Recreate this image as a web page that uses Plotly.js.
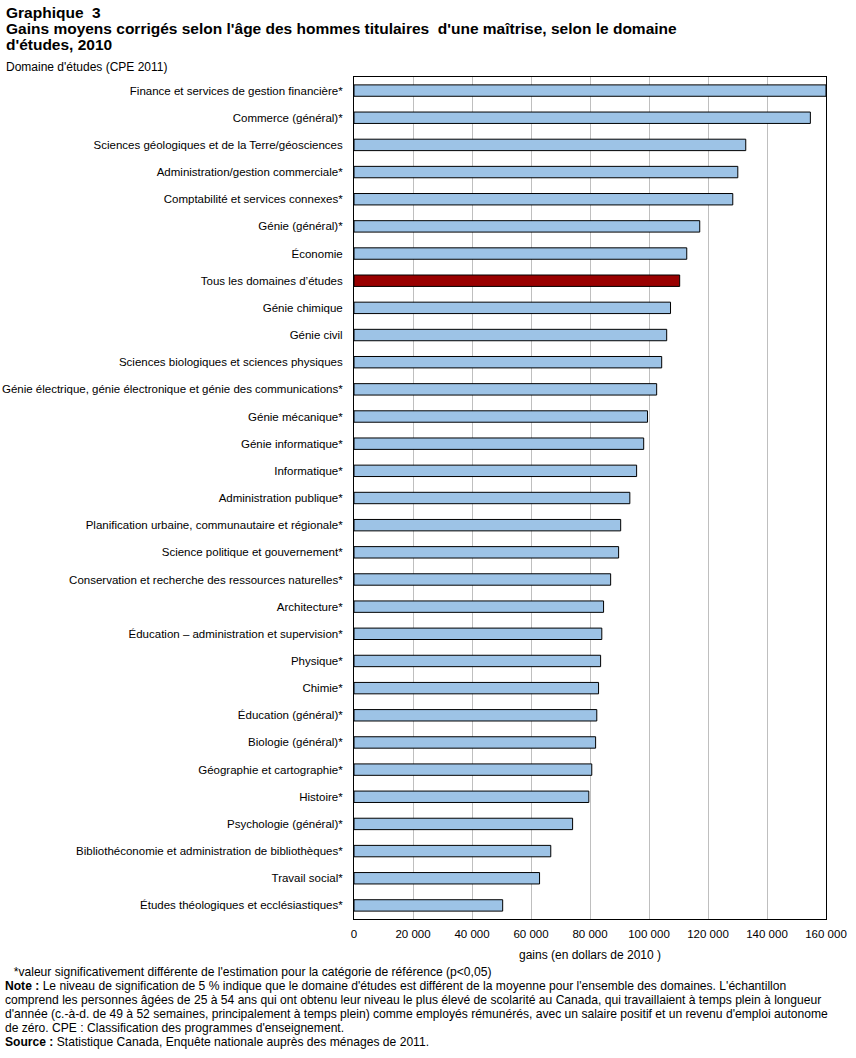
<!DOCTYPE html>
<html>
<head>
<meta charset="utf-8">
<script src="https://cdn.plot.ly/plotly-3.0.1.min.js"></script>
<style>
html,body{margin:0;padding:0;background:#fff;}
#chart{width:856px;height:1058px;}
</style>
</head>
<body>
<div id="chart"></div>
<script>
const categories = [
  "Finance et services de gestion financière*",
  "Commerce (général)*",
  "Sciences géologiques et de la Terre/géosciences",
  "Administration/gestion commerciale*",
  "Comptabilité et services connexes*",
  "Génie (général)*",
  "Économie",
  "Tous les domaines d’études",
  "Génie chimique",
  "Génie civil",
  "Sciences biologiques et sciences physiques",
  "Génie électrique, génie électronique et génie des communications*",
  "Génie mécanique*",
  "Génie informatique*",
  "Informatique*",
  "Administration publique*",
  "Planification urbaine, communautaire et régionale*",
  "Science politique et gouvernement*",
  "Conservation et recherche des ressources naturelles*",
  "Architecture*",
  "Éducation – administration et supervision*",
  "Physique*",
  "Chimie*",
  "Éducation (général)*",
  "Biologie (général)*",
  "Géographie et cartographie*",
  "Histoire*",
  "Psychologie (général)*",
  "Bibliothéconomie et administration de bibliothèques*",
  "Travail social*",
  "Études théologiques et ecclésiastiques*"
];
const earnings = [
  160000, 154700, 132800, 130100, 128400, 117200, 112800, 110400, 107300, 106000,
  104300, 102600, 99500, 98200, 95800, 93500, 90400, 89700, 87000, 84600,
  84000, 83600, 82900, 82300, 81900, 80600, 79600, 74100, 66700, 62900, 50400
];
const referenceCategory = "Tous les domaines d’études";
const xTickValues = [0, 20000, 40000, 60000, 80000, 100000, 120000, 140000, 160000];

const titleLines = [
  "Graphique  3",
  "Gains moyens corrigés selon l'âge des hommes titulaires  d'une maîtrise, selon le domaine",
  "d'études, 2010"
];
const yAxisLabel = "Domaine d'études (CPE 2011)";
const xAxisLabel = "gains (en dollars de 2010 )";
const footnoteLines = [
  "  *valeur significativement différente de l'estimation pour la catégorie de référence (p<0,05)",
  "<b>Note :</b> Le niveau de signification de 5 % indique que le domaine d'études est différent de la moyenne pour l'ensemble des domaines. L'échantillon",
  "comprend les personnes âgées de 25 à 54 ans qui ont obtenu leur niveau le plus élevé de scolarité au Canada, qui travaillaient à temps plein à longueur",
  "d'année (c.-à-d. de 49 à 52 semaines, principalement à temps plein) comme employés rémunérés, avec un salaire positif et un revenu d'emploi autonome",
  "de zéro. CPE : Classification des programmes d'enseignement.",
  "<b>Source :</b> Statistique Canada, Enquête nationale auprès des ménages de 2011."
];

const FONT = "'Liberation Sans', Arial, sans-serif";
const colors = categories.map(c => c === referenceCategory ? "#990000" : "#9DC3E6");

const trace = {
  type: "bar",
  orientation: "h",
  y: categories,
  x: earnings,
  marker: {color: colors, line: {color: "#000000", width: 1}},
  hoverinfo: "x+y"
};

// layout geometry helpers (pixels -> paper coords)
const L = 354, T = 77, W = 472, H = 842;
const px = x => (x - L) / W;
const py = y => 1 - (y - T) / H;

const annotations = [];
const titleY = [2, 18, 34];
titleLines.forEach((t, i) => annotations.push({
  text: "<b>" + t + "</b>", xref: "paper", yref: "paper", x: px(4), y: py(titleY[i]),
  xanchor: "left", yanchor: "top", showarrow: false, align: "left",
  font: {size: 15.5, family: FONT}
}));
annotations.push({
  text: yAxisLabel, xref: "paper", yref: "paper", x: px(4), y: py(58),
  xanchor: "left", yanchor: "top", showarrow: false, align: "left",
  font: {size: 12, family: FONT}
});
const footY = [963, 977, 991, 1005, 1019, 1033];
footnoteLines.forEach((t, i) => annotations.push({
  text: t, xref: "paper", yref: "paper", x: px(i === 0 ? 5 : 3), y: py(footY[i]),
  xanchor: "left", yanchor: "top", showarrow: false, align: "left",
  font: {size: 12.1, family: FONT}
}));

const layout = {
  width: 856, height: 1058,
  margin: {l: L, r: 856 - L - W, t: T, b: 1058 - T - H, pad: 0},
  paper_bgcolor: "#ffffff", plot_bgcolor: "#ffffff",
  separators: ", ",
  bargap: 0.58,
  showlegend: false,
  font: {family: FONT, size: 11, color: "#000"},
  xaxis: {
    range: [0, 160000],
    tickvals: xTickValues,
    tickformat: ",d",
    showgrid: true, gridcolor: "#BFBFBF", gridwidth: 1,
    zeroline: false,
    showline: true, linecolor: "#000", linewidth: 1, mirror: true,
    ticks: "", ticklabelstandoff: 4,
    tickfont: {size: 11.5, family: FONT},
    title: {text: xAxisLabel, font: {size: 12, family: FONT}, standoff: 11},
    fixedrange: true
  },
  yaxis: {
    autorange: "reversed",
    type: "category",
    showgrid: false, zeroline: false,
    showline: true, linecolor: "#000", linewidth: 1, mirror: true,
    ticks: "", ticklabelstandoff: 8,
    tickfont: {size: 11.5, family: FONT},
    fixedrange: true
  },
  annotations: annotations
};

Plotly.newPlot("chart", [trace], layout, {displayModeBar: false, staticPlot: true});
</script>
</body>
</html>
